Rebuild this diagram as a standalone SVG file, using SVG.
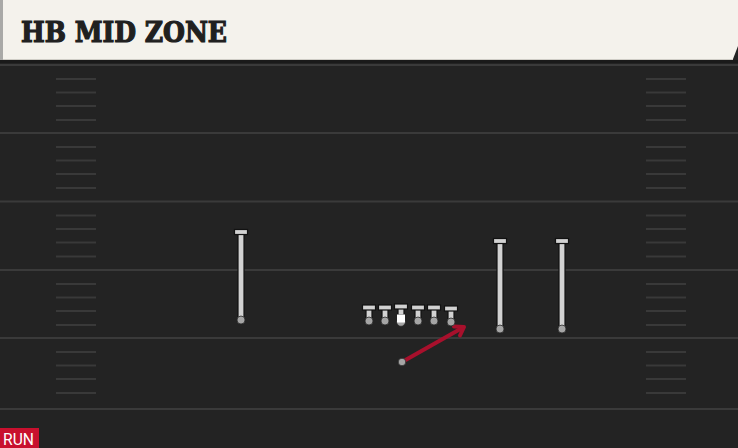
<svg xmlns="http://www.w3.org/2000/svg" width="738" height="448" viewBox="0 0 738 448">
<style>
.yard{stroke:#3a3a3a;stroke-width:2}
.hash{stroke:#393939;stroke-width:2}
.stem{fill:#d2d2d2;stroke:#121212;stroke-width:1.2}
.dot{fill:#a5a5a5;stroke:#2a2a2a;stroke-width:0.8}
.route{stroke:#a8102c;stroke-width:4;fill:none;stroke-linecap:round;stroke-linejoin:round}
</style>
<defs>
<g id="hashset">
<line class="hash" x1="56" y1="14" x2="96" y2="14"/>
<line class="hash" x1="56" y1="27.5" x2="96" y2="27.5"/>
<line class="hash" x1="56" y1="41" x2="96" y2="41"/>
<line class="hash" x1="56" y1="55" x2="96" y2="55"/>
<line class="hash" x1="646" y1="14" x2="686" y2="14"/>
<line class="hash" x1="646" y1="27.5" x2="686" y2="27.5"/>
<line class="hash" x1="646" y1="41" x2="686" y2="41"/>
<line class="hash" x1="646" y1="55" x2="686" y2="55"/>
</g>
</defs>
<rect x="0" y="0" width="738" height="448" fill="#232323"/>
<g id="field">
<line class="yard" x1="0" y1="65" x2="738" y2="65"/>
<line class="yard" x1="0" y1="133" x2="738" y2="133"/>
<line class="yard" x1="0" y1="201.5" x2="738" y2="201.5"/>
<line class="yard" x1="0" y1="270" x2="738" y2="270"/>
<line class="yard" x1="0" y1="338" x2="738" y2="338"/>
<line class="yard" x1="0" y1="409" x2="738" y2="409"/>
<use href="#hashset" y="65"/>
<use href="#hashset" y="133"/>
<use href="#hashset" y="201.5"/>
<use href="#hashset" y="270"/>
<use href="#hashset" y="338"/>
</g>
<g id="header">
<rect x="0" y="60" width="738" height="3" fill="#1a1a1a"/>
<path d="M0 0 H738 V46 L733 59 H0 Z" fill="#f4f2ec"/>
<line x1="0" y1="59.5" x2="733" y2="59.5" stroke="#cfcdc6" stroke-width="1"/>
<rect x="0" y="0" width="3" height="60" fill="#a9a9a7"/>
<text x="21" y="42" font-family="'DejaVu Serif', serif" font-weight="bold" font-size="27" fill="#202020" stroke="#202020" stroke-width="1.2" textLength="206" lengthAdjust="spacingAndGlyphs">HB MID ZONE</text>
</g>
<g id="connectors">
<line class="route" x1="402" y1="362" x2="463" y2="327.5"/>
<polyline class="route" points="454,326.5 464,327 460,335.5"/>
<circle cx="402" cy="362" r="3.8" class="dot"/>
</g>
<g id="wr-left">
<rect class="stem" x="238" y="232" width="6" height="88"/>
<rect class="stem" x="234.5" y="229.5" width="13" height="5"/>
<circle class="dot" cx="241" cy="320" r="4"/>
</g>
<g id="te-1">
<rect class="stem" x="497" y="241" width="6" height="88"/>
<rect class="stem" x="493.5" y="238.5" width="13" height="5"/>
<circle class="dot" cx="500" cy="329" r="4"/>
</g>
<g id="wr-right">
<rect class="stem" x="559" y="241" width="6" height="88"/>
<rect class="stem" x="555.5" y="238.5" width="13" height="5"/>
<circle class="dot" cx="562" cy="329" r="4"/>
</g>
<g id="ol-1">
<rect class="stem" x="366" y="307" width="6" height="14"/>
<rect class="stem" x="362.5" y="305" width="13" height="5"/>
<circle class="dot" cx="369" cy="321" r="4"/>
</g>
<g id="ol-2">
<rect class="stem" x="382" y="307" width="6" height="14"/>
<rect class="stem" x="378.5" y="305" width="13" height="5"/>
<circle class="dot" cx="385" cy="321" r="4"/>
</g>
<g id="center">
<rect class="stem" x="398" y="307" width="6" height="8"/>
<rect class="stem" x="394.5" y="304" width="13" height="5"/>
<circle class="dot" cx="401" cy="322" r="4.3"/>
<rect x="397" y="314.5" width="8" height="8" fill="#ffffff"/>
</g>
<g id="ol-3">
<rect class="stem" x="415" y="307" width="6" height="14"/>
<rect class="stem" x="411.5" y="305" width="13" height="5"/>
<circle class="dot" cx="418" cy="321" r="4"/>
</g>
<g id="ol-4">
<rect class="stem" x="431" y="307" width="6" height="14"/>
<rect class="stem" x="427.5" y="305" width="13" height="5"/>
<circle class="dot" cx="434" cy="321" r="4"/>
</g>
<g id="ol-5">
<rect class="stem" x="448" y="308" width="6" height="14"/>
<rect class="stem" x="444.5" y="306" width="13" height="5"/>
<circle class="dot" cx="451" cy="322" r="4"/>
</g>
<g id="run-tag">
<rect x="0" y="428" width="39" height="20" fill="#c8102e"/>
<text x="3" y="445" font-family="Roboto, 'Liberation Sans', sans-serif" font-size="17" fill="#ffffff" textLength="31" lengthAdjust="spacingAndGlyphs">RUN</text>
</g>
</svg>
